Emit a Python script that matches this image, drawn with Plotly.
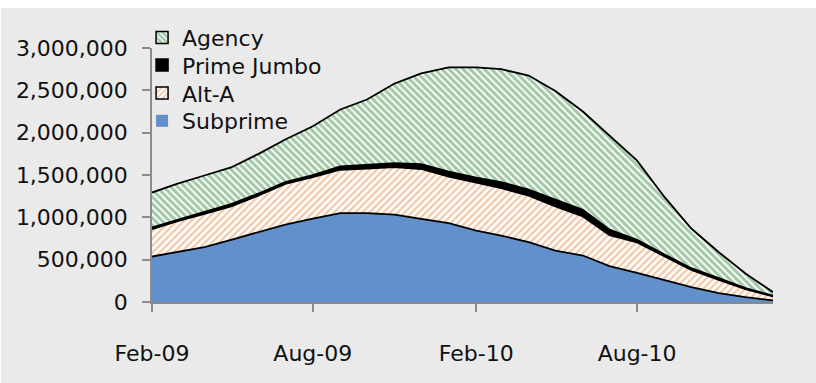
import plotly.graph_objects as go

# Monthly outstanding loans by category, Feb-2009 .. Jan-2011
months = [
    "2009-02-01", "2009-03-01", "2009-04-01", "2009-05-01", "2009-06-01", "2009-07-01",
    "2009-08-01", "2009-09-01", "2009-10-01", "2009-11-01", "2009-12-01", "2010-01-01",
    "2010-02-01", "2010-03-01", "2010-04-01", "2010-05-01", "2010-06-01", "2010-07-01",
    "2010-08-01", "2010-09-01", "2010-10-01", "2010-11-01", "2010-12-01", "2011-01-01",
]
subprime = [537000, 588000, 647000, 735000, 824000, 915000, 985000, 1049000, 1049000, 1033000,
            983000, 931000, 844000, 785000, 706000, 608000, 549000, 425000, 345000, 254000,
            175000, 104000, 57000, 18000]
alt_a = [325000, 364000, 395000, 395000, 434000, 479000, 490000, 513000, 528000, 561000,
         588000, 551000, 567000, 561000, 549000, 520000, 461000, 365000, 358000, 283000,
         205000, 158000, 96000, 47000]
prime_jumbo = [19000, 20000, 22000, 25000, 24000, 22000, 25000, 39000, 44000, 46000,
               58000, 59000, 59000, 70000, 71000, 79000, 79000, 65000, 31000, 24000,
               19000, 19000, 11000, 10000]
agency = [412000, 422000, 430000, 434000, 468000, 503000, 575000, 673000, 771000, 940000,
          1070000, 1229000, 1300000, 1334000, 1349000, 1285000, 1161000, 1112000, 936000, 677000,
          469000, 307000, 173000, 41000]

y_ticks = [0, 500000, 1000000, 1500000, 2000000, 2500000, 3000000]

BLUE = "#6190CB"
ORANGE = "#E88F4C"
GREEN = "#47944F"
BG = "#EAEAEA"
AXIS = "#8A8A8A"
FONT = "DejaVu Sans"
TEXT = "#111111"

green_pattern = dict(shape="\\", fgcolor=GREEN, bgcolor="white", size=5, solidity=0.65)
orange_pattern = dict(shape="/", fgcolor=ORANGE, bgcolor="white", size=5, solidity=0.45)

series = [
    ("Subprime", subprime, dict(fillcolor=BLUE)),
    ("Alt-A", alt_a, dict(fillcolor="white", fillpattern=orange_pattern)),
    ("Prime Jumbo", prime_jumbo, dict(fillcolor="black")),
    ("Agency", agency, dict(fillcolor="white", fillpattern=green_pattern)),
]

fig = go.Figure()
for name, values, fill in series:
    fig.add_trace(go.Scatter(
        x=months, y=values, name=name, mode="lines", stackgroup="stack",
        line=dict(color="black", width=1.8), showlegend=False, legendgroup=name,
        hoverinfo="x+y+name", **fill,
    ))

# Square legend keys, one legend box per row so the rows sit close together
legend_keys = [
    ("Agency", "legend", 1.0406,
     dict(color="white", line=dict(color="black", width=1.5), pattern=green_pattern)),
    ("Prime Jumbo", "legend2", 0.9319,
     dict(color="black", line=dict(color="black", width=1.5))),
    ("Alt-A", "legend3", 0.8217,
     dict(color="white", line=dict(color="black", width=1.5), pattern=orange_pattern)),
    ("Subprime", "legend4", 0.7126,
     dict(color=BLUE, line=dict(width=0))),
]
legend_layouts = {}
for name, legend_id, ypos, marker in legend_keys:
    fig.add_trace(go.Bar(x=[None], y=[None], name=name, marker=marker, legend=legend_id,
                         legendgroup=name, showlegend=True, hoverinfo="skip"))
    legend_layouts[legend_id] = dict(
        x=-0.016, y=ypos, xanchor="left", yanchor="middle",
        bgcolor="rgba(0,0,0,0)", borderwidth=0,
        font=dict(family=FONT, size=22, color=TEXT),
    )

fig.update_layout(
    width=816, height=383,
    margin=dict(l=152, r=43, t=48, b=81),
    paper_bgcolor=BG, plot_bgcolor=BG,
    font=dict(family=FONT, size=22, color=TEXT),
    showlegend=True,
    **legend_layouts,
    xaxis=dict(
        type="date", range=[months[0], months[-1]],
        tick0=months[0], dtick="M6", tickformat="%b-%y",
        showgrid=False, zeroline=False,
        showline=True, linecolor=AXIS, linewidth=1.5,
        ticks="outside", ticklen=8, tickwidth=1.5, tickcolor=AXIS,
        ticklabelstandoff=23,
        tickfont=dict(family=FONT, size=22, color=TEXT),
    ),
    yaxis=dict(
        range=[0, 3000000], tickvals=y_ticks, tickformat=",d",
        showgrid=False, zeroline=False,
        showline=True, linecolor=AXIS, linewidth=1.5,
        ticks="outside", ticklen=8, tickwidth=1.5, tickcolor=AXIS,
        ticklabelstandoff=10,
        tickfont=dict(family=FONT, size=22, color=TEXT),
    ),
    shapes=[
        dict(type="rect", xref="paper", yref="paper", x0=-0.5, x1=1.5,
             y0=1.1575, y1=1.3, fillcolor="white", line=dict(width=0), layer="below"),
        dict(type="rect", xref="paper", yref="paper", x0=-0.3, x1=-0.2432,
             y0=-0.5, y1=1.3, fillcolor="white", line=dict(width=0), layer="below"),
    ],
)

fig.write_html("out.html")
